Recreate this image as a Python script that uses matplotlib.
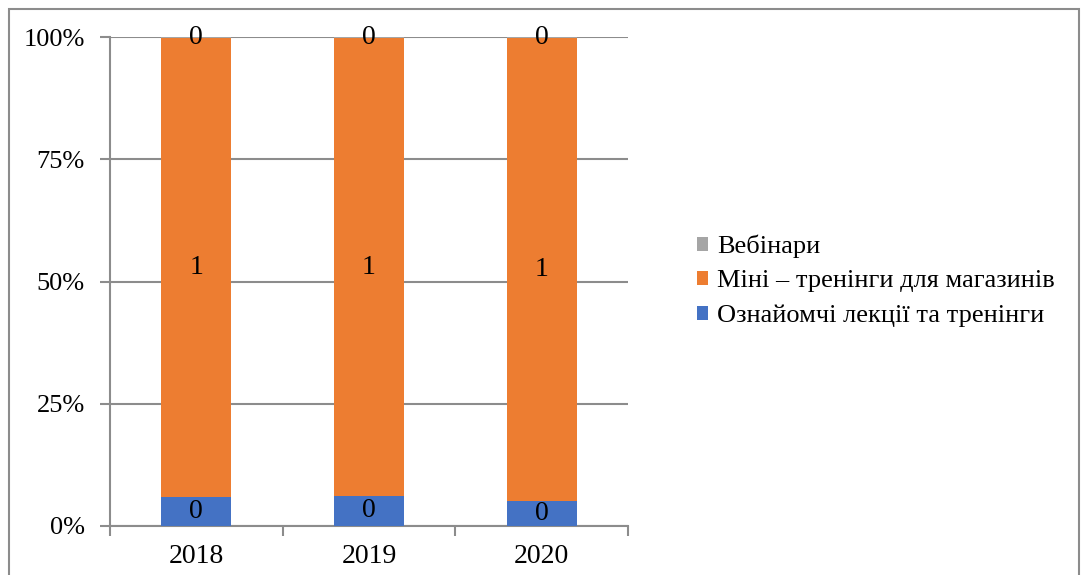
import matplotlib.pyplot as plt
from matplotlib.patches import Rectangle
from matplotlib.ticker import FixedLocator

plt.rcParams['font.family'] = ['Liberation Serif', 'DejaVu Serif']

years = ['2018', '2019', '2020']
lectures = [0.059, 0.062, 0.052]      # Ознайомчі лекції та тренінги
mini = [0.938, 0.935, 0.945]          # Міні – тренінги для магазинів
webinars = [0.003, 0.003, 0.003]      # Вебінари

fig = plt.figure(figsize=(10.86, 5.75), dpi=100)
ax = fig.add_axes([110 / 1086, 1 - 526 / 575, 518 / 1086, 489 / 575])

x = list(range(len(years)))
w = 0.405
b1 = ax.bar(x, lectures, w, color='#4472C4', zorder=3)
bottom2 = lectures
b2 = ax.bar(x, mini, w, bottom=bottom2, color='#ED7D31', zorder=3)
bottom3 = [a + b for a, b in zip(lectures, mini)]
b3 = ax.bar(x, webinars, w, bottom=bottom3, color='#A5A5A5', zorder=3)

# data labels, rounded like the original
for bars, vals, bots in [(b1, lectures, [0, 0, 0]), (b2, mini, bottom2), (b3, webinars, bottom3)]:
    for xi, v, b in zip(x, vals, bots):
        ax.text(xi, b + v / 2, f'{v:.0f}', ha='center', va='center', fontsize=20, zorder=4)

ax.set_xlim(-0.5, 2.5)
ax.set_ylim(0, 1)
ax.set_yticks([0, 0.25, 0.5, 0.75, 1.0])
ax.set_yticklabels(['0%', '25%', '50%', '75%', '100%'], fontsize=19)
ax.set_xticks(x)
ax.set_xticklabels(years, fontsize=20)
ax.tick_params(axis='x', length=0, pad=13)
ax.xaxis.set_minor_locator(FixedLocator([-0.5, 0.5, 1.5, 2.5]))
ax.tick_params(axis='x', which='minor', length=7, width=1.5, color='#8c8c8c')
ax.tick_params(axis='y', length=7, width=1.5, color='#8c8c8c', pad=11)

ax.grid(axis='y', color='#8c8c8c', linewidth=1.5, zorder=0)
for s in ['top', 'right']:
    ax.spines[s].set_visible(False)
for s in ['left', 'bottom']:
    ax.spines[s].set_color('#8c8c8c')
    ax.spines[s].set_linewidth(1.5)

handles = [b3, b2, b1]
labels = ['Вебінари', 'Міні – тренінги для магазинів', 'Ознайомчі лекції та тренінги']
fig.legend(handles, labels, loc='center left', bbox_to_anchor=(673 / 1086, 1 - 281 / 575),
           frameon=False, fontsize=19, handlelength=0.42, handleheight=0.42,
           handletextpad=0.34, labelspacing=0.47)

fig.patches.append(Rectangle((9 / 1086, -0.05), 1070 / 1086, 1 - 9 / 575 + 0.05,
                             transform=fig.transFigure, fill=False,
                             edgecolor='#8c8c8c', linewidth=1.5))

fig.savefig('out.png', dpi=100)
